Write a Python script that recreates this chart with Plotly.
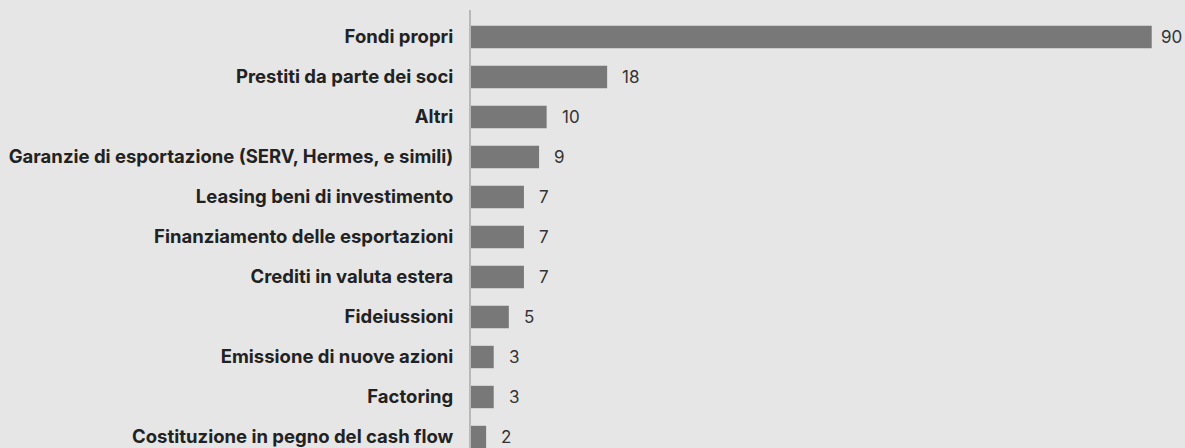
import plotly.graph_objects as go

categories = [
    "Fondi propri",
    "Prestiti da parte dei soci",
    "Altri",
    "Garanzie di esportazione (SERV, Hermes, e simili)",
    "Leasing beni di investimento",
    "Finanziamento delle esportazioni",
    "Crediti in valuta estera",
    "Fideiussioni",
    "Emissione di nuove azioni",
    "Factoring",
    "Costituzione in pegno del cash flow",
]
values = [90, 18, 10, 9, 7, 7, 7, 5, 3, 3, 2]

BG = "#e6e6e6"
BAR = "#787878"
FONT = "Inter"
X_MAX = 94.4

fig = go.Figure(
    go.Bar(
        x=values,
        y=categories,
        orientation="h",
        marker=dict(color=BAR, line=dict(width=0)),
        width=0.56,
        hoverinfo="skip",
    )
)

# value labels to the right of each bar; the longest bar's label sits closer
# so it stays inside the page
for cat, val in zip(categories, values):
    shift = 7 if val > 0.9 * X_MAX else 13
    fig.add_annotation(
        x=val, y=cat, text=str(val), showarrow=False,
        xanchor="left", yanchor="middle", xshift=shift,
        font=dict(family=FONT, size=17, color="#333333"),
    )

fig.update_layout(
    width=1185, height=448,
    margin=dict(l=471, r=0, t=10, b=0),
    paper_bgcolor=BG, plot_bgcolor=BG,
    showlegend=False,
    bargap=0.45,
)
fig.update_xaxes(
    range=[0, X_MAX], showgrid=False, zeroline=False,
    showticklabels=False, showline=False,
)
fig.update_yaxes(
    type="category", categoryorder="array", categoryarray=categories,
    range=[10.275, -0.675],
    showgrid=False, zeroline=False,
    showline=True, linecolor="#b8b8b8", linewidth=2,
    ticks="", ticklabelstandoff=12,
    tickfont=dict(family=FONT, size=18.5, color="#222222", weight="bold"),
)

fig.write_html("out.html")
